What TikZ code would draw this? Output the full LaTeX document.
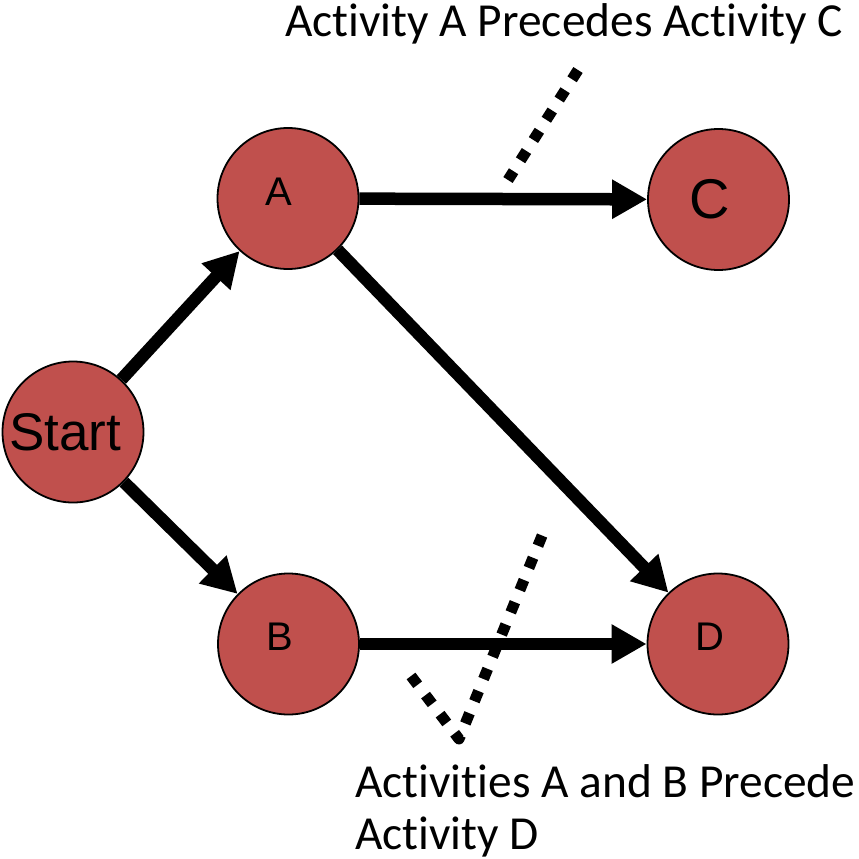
\documentclass[tikz,border=0pt]{standalone}
\usepackage{fontspec}
\setmainfont{Carlito}[Ligatures=NoCommon]
\newfontfamily\arialf{Liberation Sans}
\usetikzlibrary{arrows.meta}
\definecolor{actred}{HTML}{C0504D}
\begin{document}
\begin{tikzpicture}[x=1pt,y=-1pt,
  activity/.style={circle, draw=black, line width=1.8pt, fill=actred,
    minimum size=141pt, inner sep=0pt},
  nodetext/.style={font=\arialf\fontsize{#1}{#1}\selectfont, inner sep=0pt},
  precarrow/.style={line width=12.5pt, -{Triangle[length=35pt,width=37pt]}},
  pointer/.style={line width=11pt, dash pattern=on 11pt off 13pt},
  caption/.style={font=\fontsize{47.4}{52}\selectfont, inner sep=0pt, anchor=base west}]
  \useasboundingbox (0,0) rectangle (859,859);

  % activity nodes
  \node[activity, label={[nodetext=53, xshift=-8pt]center:Start}] (Start) at (73,432) {};
  \node[activity, label={[nodetext=40, xshift=-9pt, yshift=7pt]center:A}] (A) at (288,198.5) {};
  \node[activity, label={[nodetext=40, xshift=-9pt, yshift=7pt]center:B}] (B) at (288.5,644) {};
  \node[activity, label={[nodetext=56, xshift=-9pt]center:C}] (C) at (718.5,199.5) {};
  \node[activity, label={[nodetext=40, xshift=-8pt, yshift=7pt]center:D}] (D) at (718,644) {};

  % precedence arrows
  \draw[precarrow] (Start) -- (A);
  \draw[precarrow] (Start) -- (B);
  \draw[precarrow] (A) -- (C);
  \draw[precarrow] (A) -- (D);
  \draw[precarrow] (B) -- (D);

  % captions
  \node[caption] (capAC) at (285,37) {Activity A Precedes Activity C};
  \node[caption] (capBD1) at (355,797) {Activities A and B Precede};
  \node[caption] (capBD2) at (355,849) {Activity D};

  % dotted pointers from the captions to the arrows
  \coordinate (pAC1) at (578,70);
  \coordinate (pAC2) at (508,180);
  \draw[pointer] (pAC1) -- (pAC2);

  \coordinate (pBD1) at (546,526);
  \coordinate (pBD2) at (459,739);
  \coordinate (pBD3) at (411,676);
  \draw[pointer, line join=round] (pBD3) -- (pBD2) -- (pBD1);
\end{tikzpicture}
\end{document}
